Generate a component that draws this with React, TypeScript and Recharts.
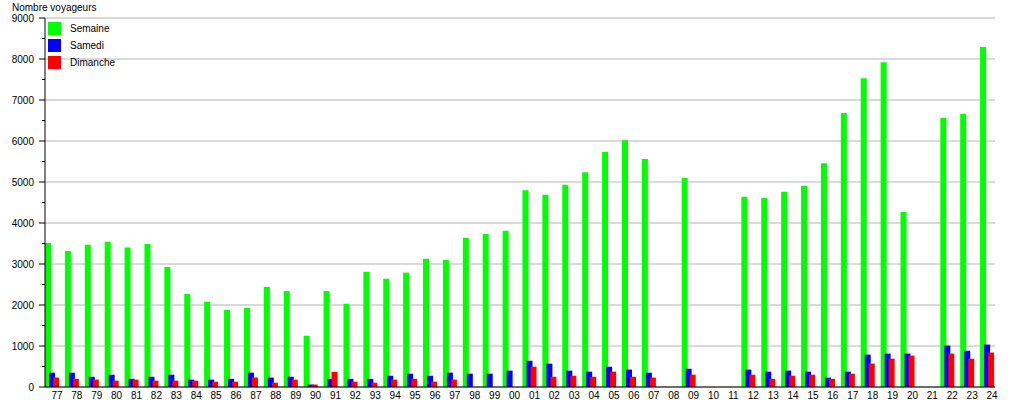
import React from 'react';
import { BarChart, Bar, XAxis, YAxis, CartesianGrid, Legend } from 'recharts';

const years = [
  '77','78','79','80','81','82','83','84','85','86','87','88','89','90','91','92','93','94','95','96','97','98','99',
  '00','01','02','03','04','05','06','07','08','09','10','11','12','13','14','15','16','17','18','19','20','21','22','23','24',
];

const semaine = [
  3510,3320,3470,3540,3400,3490,2930,2270,2080,1880,1930,2440,2340,1250,2340,2030,2810,2640,2790,3130,3100,3640,3730,
  3810,4800,4690,4930,5240,5730,6020,5560,null,5100,null,null,4640,4610,4760,4900,5460,6680,7530,7920,4270,null,6560,6660,8290,
];

const samedi = [
  350,350,250,300,200,250,300,180,180,200,350,230,250,60,200,200,200,275,325,275,350,325,325,
  400,640,570,400,375,495,425,350,null,445,null,null,425,375,400,375,230,375,790,815,815,null,1010,885,1035,
];

const dimanche = [
  230,200,180,155,180,155,155,155,130,130,230,105,180,60,370,130,105,180,200,130,180,null,null,
  null,495,250,275,250,375,250,230,null,300,null,null,300,200,275,300,200,325,570,690,765,null,815,690,840,
];

const yTicks = [0,500,1000,1500,2000,2500,3000,3500,4000,4500,5000,5500,6000,6500,7000,7500,8000,8500,9000];
const yMajor = [0,1000,2000,3000,4000,5000,6000,7000,8000,9000];

const series = [
  { key: 'semaine', name: 'Semaine', color: '#00ff00' },
  { key: 'samedi', name: 'Samedi', color: '#0000ff' },
  { key: 'dimanche', name: 'Dimanche', color: '#ff0000' },
];

const data = years.map((y, i) => ({
  year: y,
  semaine: semaine[i],
  samedi: samedi[i],
  dimanche: dimanche[i],
}));

const FONT = '"Liberation Sans", Arial, sans-serif';
const FS = 10;

const YTick = (props: any) => {
  const { x, y, payload } = props;
  const major = payload.value % 1000 === 0;
  return (
    <g>
      <line x1={x - (major ? 6 : 3)} x2={x} y1={y} y2={y} stroke="#000" strokeWidth={1} />
      {major && (
        <text x={x - 11} y={y} dy="0.36em" textAnchor="end" fontSize={FS} fontFamily={FONT} fill="#000">
          {payload.value}
        </text>
      )}
    </g>
  );
};

const XTick = (props: any) => {
  const { x, y, payload } = props;
  return (
    <text x={x + 5} y={y + 12} textAnchor="middle" fontSize={FS} fontFamily={FONT} fill="#000">
      {payload.value}
    </text>
  );
};

const LegendContent = () => (
  <div style={{ fontFamily: FONT, fontSize: FS, color: '#000' }}>
    {series.map((s) => (
      <div key={s.key} style={{ display: 'flex', alignItems: 'center', height: 17 }}>
        <div style={{ width: 13, height: 13, background: s.color }} />
        <span style={{ marginLeft: 9 }}>{s.name}</span>
      </div>
    ))}
  </div>
);

export default function App() {
  return (
    <div style={{ position: 'absolute', left: 0, top: 0, width: 1015, height: 400, background: '#fff' }}>
      <div
        style={{
          position: 'absolute',
          left: 12,
          top: 2,
          fontFamily: FONT,
          fontSize: FS,
          lineHeight: '12px',
          color: '#000',
          whiteSpace: 'nowrap',
        }}
      >
        Nombre voyageurs
      </div>
      <BarChart
        width={1015}
        height={400}
        data={data}
        margin={{ top: 18, right: 20, bottom: 0, left: 0 }}
        barSize={6}
        barGap={-2}
      >
        <CartesianGrid vertical={false} horizontalValues={yMajor} stroke="#b4b4b4" />
        <XAxis
          dataKey="year"
          interval={0}
          height={13}
          tickSize={0}
          tickMargin={0}
          tickLine={false}
          axisLine={{ stroke: '#000' }}
          padding={{ left: -3, right: -2 }}
          tick={<XTick />}
        />
        <YAxis
          width={45}
          domain={[0, 9000]}
          ticks={yTicks}
          interval={0}
          tickSize={0}
          tickMargin={0}
          tickLine={false}
          axisLine={{ stroke: '#000' }}
          tick={<YTick />}
        />
        <Legend
          layout="vertical"
          align="center"
          verticalAlign="middle"
          content={<LegendContent />}
          wrapperStyle={{ left: 48, top: 20, width: 'auto', height: 'auto' }}
        />
        {series.map((s) => (
          <Bar key={s.key} dataKey={s.key} name={s.name} fill={s.color} isAnimationActive={false} />
        ))}
      </BarChart>
    </div>
  );
}
